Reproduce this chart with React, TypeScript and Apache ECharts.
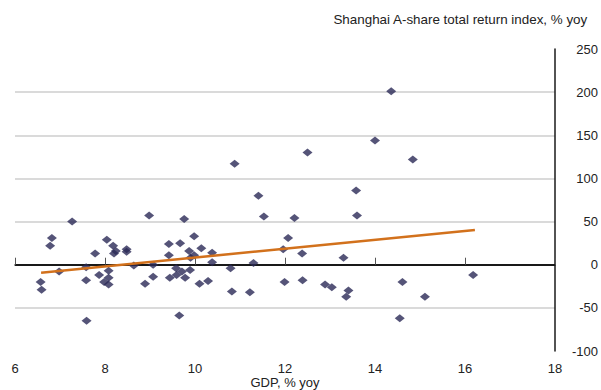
import React, { useEffect, useRef } from "react";
import * as echarts from "echarts";

const gdp = [
  6.57, 6.59, 6.78, 6.82, 6.98, 7.27, 7.58, 7.58, 7.59, 7.78, 7.87, 7.98, 8.04, 8.08, 8.08, 8.08,
  8.18, 8.2, 8.24, 8.48, 8.48, 8.64, 8.89, 8.98, 9.07, 9.07, 9.42, 9.42, 9.44, 9.58, 9.59, 9.65,
  9.67, 9.71, 9.76, 9.78, 9.87, 9.89, 9.9, 9.98, 9.98, 10.1, 10.14, 10.29, 10.38, 10.38, 10.79,
  10.82, 10.88, 11.22, 11.3, 11.41, 11.53, 11.96, 11.99, 12.07, 12.21, 12.38, 12.39, 12.5, 12.89,
  13.04, 13.3, 13.36, 13.41, 13.58, 13.6, 14.0, 14.36, 14.55, 14.61, 14.84, 15.11, 16.18,
];
const shareReturn = [
  -20, -29, 22, 31, -8, 50, -3, -18, -65, 13, -12, -20, 29, -7, -15, -23,
  22, 13, 16, 18, 15, -1, -22, 57, 0, -14, 24, 11, -15, -4, -12, -59,
  25, -8, 53, -15, 16, -6, 8, 33, 11, -22, 19, -19, 14, 3, -4,
  -31, 117, -32, 2, 80, 56, 18, -20, 31, 54, 13, -18, 130, -23,
  -26, 8, -37, -30, 86, 57, 144, 201, -62, -20, 122, -37, -12,
];
const trendX = [6.58, 16.22];
const trendY = [-9.2, 40.2];
const xTicks = [6, 8, 10, 12, 14, 16, 18];
const yTicks = [-100, -50, 0, 50, 100, 150, 200, 250];
const xName = "GDP, % yoy";
const yName = "Shanghai A-share total return index, % yoy";

const FONT = "'Liberation Sans', Arial, sans-serif";

export default function App() {
  const ref = useRef<HTMLDivElement>(null);
  useEffect(() => {
    if (!ref.current) return;
    const chart = echarts.init(ref.current, undefined, { renderer: "svg" });
    const gridColors = yTicks.map((v) =>
      v === 0 ? "#1a1a1a" : v === yTicks[0] || v === yTicks[yTicks.length - 1] ? "rgba(0,0,0,0)" : "#dadada"
    );
    chart.setOption({
      animation: false,
      backgroundColor: "#ffffff",
      textStyle: { fontFamily: FONT },
      grid: { left: 15, right: 46, top: 49, bottom: 39, outerBoundsMode: "none", containLabel: false },
      graphic: [
        {
          type: "text",
          right: 13,
          top: 13,
          style: { text: yName, font: `13.4px ${FONT}`, fill: "#222" },
        },
        {
          type: "text",
          x: 285,
          y: 382,
          style: {
            text: xName,
            font: `13px ${FONT}`,
            fill: "#222",
            align: "center",
            verticalAlign: "middle",
          },
        },
      ],
      xAxis: {
        type: "value",
        min: xTicks[0],
        max: xTicks[xTicks.length - 1],
        interval: 2,
        axisLine: { show: true, lineStyle: { color: "#1a1a1a", width: 1.5 } },
        axisTick: { show: true, inside: true, length: 7, lineStyle: { color: "#555", width: 1 } },
        axisLabel: { fontSize: 13, color: "#222", margin: 11, fontFamily: FONT },
        splitLine: { show: false },
      },
      yAxis: {
        type: "value",
        position: "right",
        min: yTicks[0],
        max: yTicks[yTicks.length - 1],
        interval: 50,
        axisLine: { show: true, lineStyle: { color: "#1a1a1a", width: 1.5 } },
        axisTick: { show: false },
        axisLabel: { fontSize: 13, color: "#222", align: "right", margin: 43, fontFamily: FONT },
        splitLine: { show: true, lineStyle: { color: gridColors, width: 2 } },
      },
      series: [
        {
          type: "scatter",
          data: gdp.map((x, i) => [x, shareReturn[i]]),
          symbol: "diamond",
          symbolSize: [10, 8],
          itemStyle: { color: "#2a2956" },
          z: 3,
        },
        {
          type: "line",
          data: trendX.map((x, i) => [x, trendY[i]]),
          symbol: "none",
          lineStyle: { color: "#d2711c", width: 2.5 },
          z: 4,
        },
      ],
    });
    return () => chart.dispose();
  }, []);
  return <div ref={ref} style={{ width: 601, height: 390, position: "absolute", left: 0, top: 0 }} />;
}
